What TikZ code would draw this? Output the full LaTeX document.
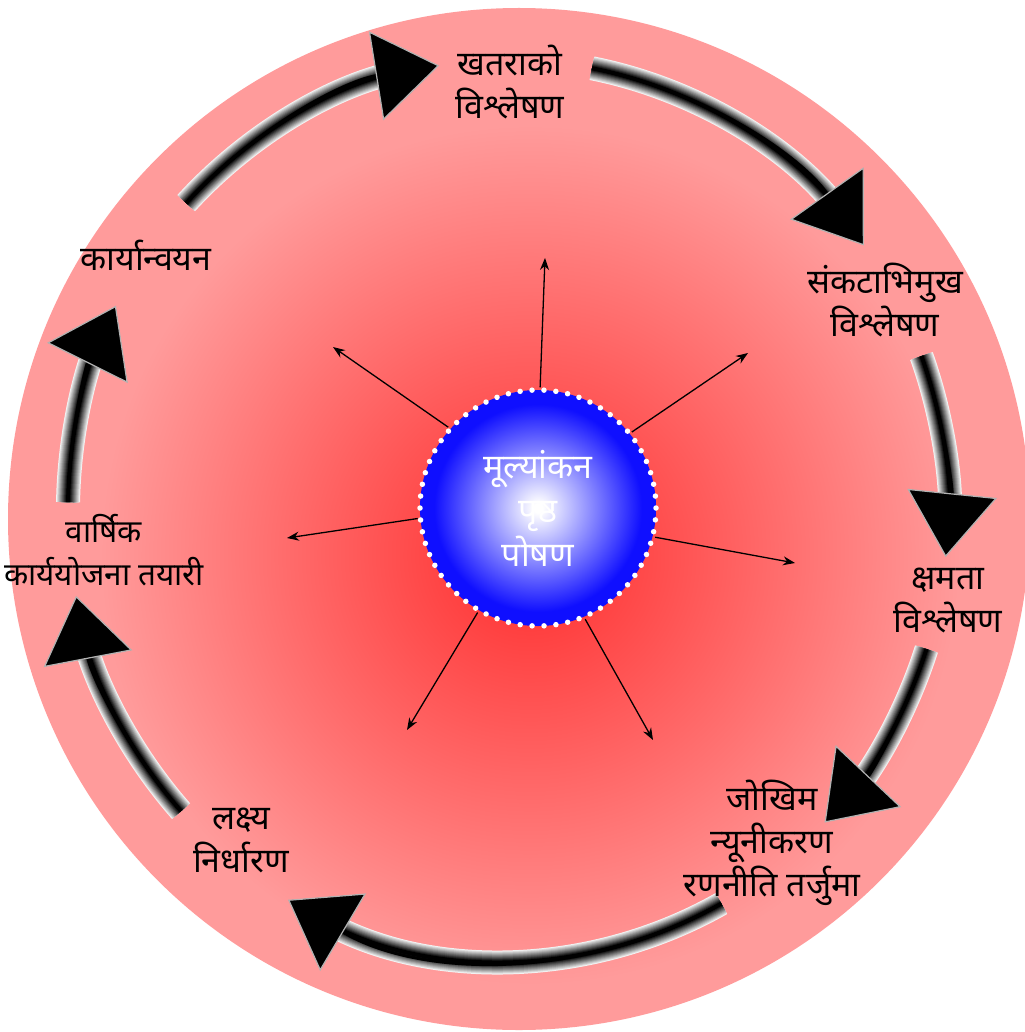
\documentclass[tikz,border=0pt]{standalone}
\usepackage{fontspec}
\usetikzlibrary{arrows.meta}
\newfontfamily\deva[Script=Devanagari]{Noto Sans}

\definecolor{ringpink}{RGB}{255,155,155}
\definecolor{glowred}{RGB}{255,45,45}
\definecolor{ballblue}{RGB}{15,15,255}

\pgfdeclareradialshading{ballshade}{\pgfpointorigin}{color(0bp)=(white); color(1bp)=(white); color(22bp)=(ballblue); color(25bp)=(ballblue); color(50bp)=(ballblue)}

\tikzset{
  stage/.style={align=center, inner sep=0pt, font=\deva\fontsize{34}{43}\selectfont},
  spoke/.style={line width=1.3pt, -{Stealth[length=12pt,width=9pt]}},
  tube/.style={line width=#1, shorten >=38pt},
  tubetip/.style={line width=3pt, -{Triangle[length=64pt,width=90pt,line width=1.2pt,color=black!30,fill=black]}},
}

\begin{document}
\begin{tikzpicture}[x=1pt, y=-1pt, line cap=butt, line join=round]

  %% ════ background disc ════
  \fill[ringpink] (519,519) circle (511);
  \shade[inner color=glowred, outer color=ringpink] (530,555) circle (430);

  %% ════ cycle arrows (ellipse round (508,510)) ════
  \coordinate (ring) at (508,510);
  \foreach \a/\b in {-137/-99, -79/-36, -20/6, 18/44, 61/120, 138/169, 181/207} {
    \foreach \i in {0,...,10} {
      \pgfmathtruncatemacro\w{24-2*\i}
      \pgfmathtruncatemacro\k{5+9.5*\i}
      \draw[tube=\w pt, draw=black!\k] (ring) ++(\a:440 and 450) arc[start angle=\a, end angle=\b, x radius=440, y radius=450];
    }
    \draw[tubetip] (ring) ++(\a:440 and 450) arc[start angle=\a, end angle=\b, x radius=440, y radius=450];
  }

  %% ════ centre ball ════
  \node[circle, minimum size=236pt, inner sep=0pt, shading=ballshade,
        draw=white, line width=5.5pt, line cap=round, dash pattern=on 0pt off 11.96pt,
        text=white, align=center, font=\deva\fontsize{34}{44}\selectfont] (ball) at (538,508) {मूल्यांकन\\पृष्ठ\\पोषण};

  %% ════ spokes ════
  \coordinate (s1) at (545,258);
  \coordinate (s2) at (748,353);
  \coordinate (s3) at (795,563);
  \coordinate (s4) at (653,740);
  \coordinate (s5) at (407,730);
  \coordinate (s6) at (287,538);
  \coordinate (s7) at (333,347);
  \foreach \ang/\tip in {89/s1, 39/s2, -14/s3, -67/s4, -120/s5, -175/s6, 138/s7}
    \draw[spoke] (ball.\ang) -- (\tip);

  %% ════ stage labels ════
  \node[stage] (threat) at (510,82)  {खतराको\\विश्लेषण};
  \node[stage] (vuln)   at (885,300) {संकटाभिमुख\\विश्लेषण};
  \node[stage] (capac)  at (948,600) {क्षमता\\विश्लेषण};
  \node[stage] (mitig)  at (772,843) {जोखिम\\न्यूनीकरण\\रणनीति तर्जुमा};
  \node[stage] (target) at (241,840) {लक्ष्य\\निर्धारण};
  \node[stage, font=\deva\fontsize{31.5}{43}\selectfont] (plan) at (104,550) {वार्षिक\\कार्ययोजना तयारी};
  \node[stage] (impl)   at (146,255) {कार्यान्वयन};

  % fix the canvas
  \pgfresetboundingbox
  \path[use as bounding box] (0,0) rectangle (1024,1032);
\end{tikzpicture}
\end{document}
